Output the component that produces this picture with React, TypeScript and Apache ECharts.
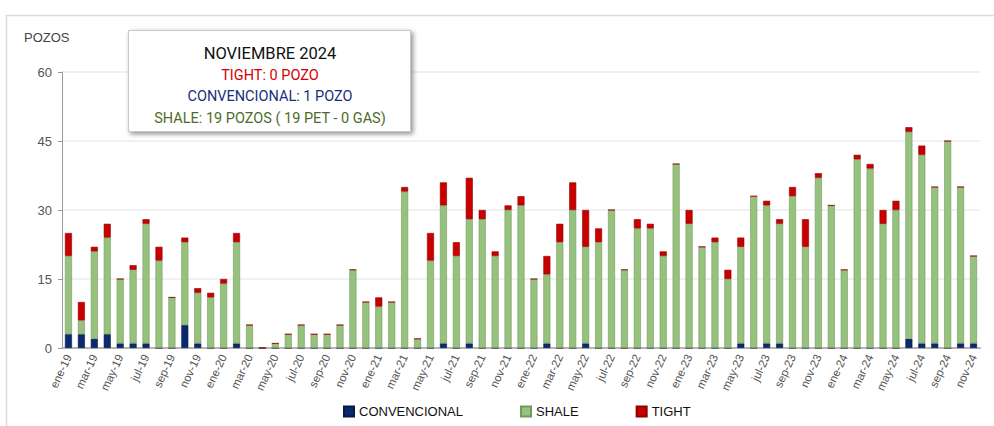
import React, { useEffect, useRef } from "react";
import * as echarts from "echarts";

const months = ["ene", "feb", "mar", "abr", "may", "jun", "jul", "ago", "sep", "oct", "nov", "dic"];
const years = ["19", "20", "21", "22", "23", "24"];
const categories: string[] = [];
years.forEach((y) => months.forEach((m) => categories.push(`${m}-${y}`)));
categories.splice(71);

const convencional = [
  3, 3, 2, 3, 1, 1, 1, 0, 0, 5, 1, 0,
  0, 1, 0, 0, 0, 0, 0, 0, 0, 0, 0, 0,
  0, 0, 0, 0, 0, 1, 0, 1, 0, 0, 0, 0,
  0, 1, 0, 0, 1, 0, 0, 0, 0, 0, 0, 0,
  0, 0, 0, 0, 1, 0, 1, 1, 0, 0, 0, 0,
  0, 0, 0, 0, 0, 2, 1, 1, 0, 1, 1,
];
const shale = [
  17, 3, 19, 21, 14, 16, 26, 19, 11, 18, 11, 11,
  14, 22, 5, 0, 1, 3, 5, 3, 3, 5, 17, 10,
  9, 10, 34, 2, 19, 30, 20, 27, 28, 20, 30, 31,
  15, 15, 23, 30, 21, 23, 30, 17, 26, 26, 20, 40,
  27, 22, 23, 15, 21, 33, 30, 26, 33, 22, 37, 31,
  17, 41, 39, 27, 30, 45, 41, 34, 45, 34, 19,
];
const tight = [
  5, 4, 1, 3, 0, 1, 1, 3, 0, 1, 1, 1,
  1, 2, 0, 0, 0, 0, 0, 0, 0, 0, 0, 0,
  2, 0, 1, 0, 6, 5, 3, 9, 2, 1, 1, 2,
  0, 4, 4, 6, 8, 3, 0, 0, 2, 1, 1, 0,
  3, 0, 1, 2, 2, 0, 1, 1, 2, 6, 1, 0,
  0, 1, 1, 3, 2, 1, 2, 0, 0, 0, 0,
];
const yTicks = { min: 0, max: 60, interval: 15 };

const annotationTitle = "NOVIEMBRE 2024";
const annotationLines = [
  { text: "TIGHT: 0 POZO", color: "#d10000" },
  { text: "CONVENCIONAL: 1 POZO", color: "#15307a" },
  { text: "SHALE: 19 POZOS ( 19 PET - 0 GAS)", color: "#4f6b2a" },
];

export default function App() {
  const ref = useRef<HTMLDivElement>(null);
  useEffect(() => {
    if (!ref.current) return;
    const chart = echarts.init(ref.current, undefined, { renderer: "svg" });
    const font = "Liberation Sans, Arial, sans-serif";
    const barCommon = {
      type: "bar" as const,
      stack: "total",
      barWidth: 7,
    };
    chart.setOption({
      animation: false,
      textStyle: { fontFamily: font },
      grid: { left: 62, right: 14, top: 72, bottom: 78, containLabel: false },
      xAxis: {
        type: "category",
        data: categories,
        axisLine: { lineStyle: { color: "#b5b5b5", width: 2 } },
        axisTick: { interval: 1, lineStyle: { color: "#888" }, length: 4 },
        axisLabel: { interval: 1, rotate: 65, color: "#555", fontSize: 11.5, fontFamily: font, margin: 7 },
      },
      yAxis: {
        type: "value",
        min: yTicks.min,
        max: yTicks.max,
        interval: yTicks.interval,
        axisLine: { show: true, lineStyle: { color: "#999" } },
        axisTick: { show: true, length: 4, lineStyle: { color: "#999" } },
        axisLabel: { color: "#555", fontSize: 13, fontFamily: font, margin: 10 },
        splitLine: { lineStyle: { color: "#ececec", width: 1.5 } },
      },
      legend: {
        bottom: 3,
        left: 338,
        icon: "rect",
        itemWidth: 10,
        itemHeight: 10,
        itemGap: 57,
        textStyle: { color: "#111", fontSize: 13, fontFamily: font },
        data: ["CONVENCIONAL", "SHALE", "TIGHT"],
      },
      series: [
        {
          ...barCommon,
          name: "CONVENCIONAL",
          data: convencional,
          itemStyle: { color: "#0b2a6e", borderColor: "#061a48", borderWidth: 0.6 },
        },
        {
          ...barCommon,
          name: "SHALE",
          data: shale,
          itemStyle: { color: "#97c27e", borderColor: "#74985f", borderWidth: 0.6 },
        },
        {
          ...barCommon,
          name: "TIGHT",
          data: tight,
          itemStyle: { color: "#c80000", borderColor: "#8f0000", borderWidth: 0.6 },
        },
      ],
      graphic: [
        {
          type: "rect",
          left: 4,
          top: 13,
          shape: { width: 1000, height: 500 },
          style: { fill: "none", stroke: "#dcdcdc", lineWidth: 1.5 },
          silent: true,
          z: -1,
        },
        {
          type: "text",
          left: 24,
          top: 31,
          style: { text: "POZOS", fill: "#444", fontSize: 13, fontFamily: font },
        },
        {
          type: "rect",
          left: 128,
          top: 30,
          shape: { width: 282, height: 101 },
          style: {
            fill: "#fff",
            stroke: "#c8c8c8",
            lineWidth: 1,
            shadowBlur: 5,
            shadowColor: "rgba(0,0,0,0.45)",
            shadowOffsetX: 2,
            shadowOffsetY: 2,
          },
          z: 10,
        },
        {
          type: "text",
          x: 270,
          y: 53,
          style: {
            text: annotationTitle,
            fill: "#111",
            fontSize: 16.5,
            fontFamily: "Roboto",
            align: "center",
            verticalAlign: "middle",
          },
          z: 11,
        },
        ...annotationLines.map((l, i) => ({
          type: "text",
          x: 270,
          y: 75 + i * 21.5,
          style: {
            text: l.text,
            fill: l.color,
            fontSize: 14.5,
            fontFamily: "Roboto",
            align: "center",
            verticalAlign: "middle",
          },
          z: 11,
        })),
      ],
    });
    return () => chart.dispose();
  }, []);
  return <div ref={ref} style={{ width: 994, height: 426, position: "absolute", left: 0, top: 0 }} />;
}
